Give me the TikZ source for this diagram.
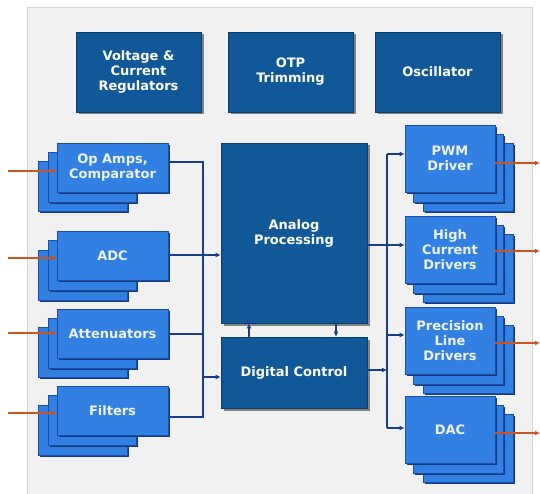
\documentclass[tikz,border=0pt]{standalone}
\usepackage{fontspec}
\setmainfont{DejaVu Sans}
\usetikzlibrary{arrows.meta,shadows}

\definecolor{panel}{RGB}{241,241,241}
\definecolor{panelline}{RGB}{212,212,212}
\definecolor{darkblock}{RGB}{16,88,152}
\definecolor{lightblock}{RGB}{50,128,226}
\definecolor{lightedge}{RGB}{26,78,168}
\definecolor{wirecol}{RGB}{24,62,140}
\definecolor{signal}{RGB}{204,84,34}
\definecolor{lbltext}{RGB}{238,243,252}

\tikzset{
  blocktext/.style={font=\bfseries\fontsize{13}{15}\selectfont, align=center, text=white},
  darkbox/.style={blocktext, rectangle, fill=darkblock, draw=darkblock!70!black,
    line width=0.6pt, inner sep=0pt,
    drop shadow={shadow xshift=2.5pt, shadow yshift=-2.5pt, opacity=.45, fill=black}},
  cardshadow/.style={general shadow={fill=lightedge!75!black, shadow xshift=1.6pt, shadow yshift=-1.6pt}},
  lightbox/.style={blocktext, text=lbltext, rectangle, fill=lightblock, draw=lightedge,
    line width=0.8pt, inner sep=0pt, cardshadow},
  layerbox/.style={fill=lightblock, draw=lightedge, line width=0.8pt, cardshadow},
  wire/.style={draw=wirecol, line width=1.3pt},
  wirearrow/.style={wire, -{Latex[length=5pt,width=5pt]}},
  sigarrow/.style={draw=signal, line width=1.3pt, -{Latex[length=5pt,width=5pt]}},
}

% stacked input card: name, centre y, label
\newcommand\leftstack[3]{%
  \path[layerbox] (38,{#2-6}) rectangle (127,{#2+44});
  \path[layerbox] (48,{#2-15.5}) rectangle (136,{#2+34.5});
  \node[lightbox, minimum width=111pt, minimum height=49pt] (#1) at (112.5,#2) {#3};
}
% stacked output card: name, centre y, label
\newcommand\rightstack[3]{%
  \path[layerbox] (423,{#2-15.5}) rectangle (513,{#2+52.5});
  \path[layerbox] (413,{#2-24.5}) rectangle (503,{#2+43.5});
  \node[lightbox, minimum width=90pt, minimum height=67pt] (#1) at (450,#2) {#3};
}

\begin{document}
\begin{tikzpicture}[x=1pt, y=-1pt]
\useasboundingbox (0,0) rectangle (540,494);
\path[fill=white] (0,0) rectangle (540,494);
\path[fill=panel, draw=panelline, line width=0.8pt] (27,7) rectangle (532,510);

% top row
\node[darkbox, minimum width=125pt, minimum height=80pt] (vreg) at (138.5,72) {Voltage \&\\Current\\Regulators};
\node[darkbox, minimum width=125pt, minimum height=80pt] (otp) at (290.5,72) {OTP\\Trimming};
\node[darkbox, minimum width=125pt, minimum height=80pt] (osc) at (437.5,72) {Oscillator};

% core
\node[darkbox, minimum width=146pt, minimum height=180pt] (analog) at (294,233) {Analog\\Processing};
\node[darkbox, minimum width=146pt, minimum height=71pt] (digital) at (294,372.5) {Digital Control};

% inputs
\leftstack{opamps}{167.5}{Op Amps,\\Comparator}
\leftstack{adc}{256}{ADC}
\leftstack{atten}{333.5}{Attenuators}
\leftstack{filters}{411}{Filters}

% outputs
\rightstack{pwm}{158.5}{PWM\\Driver}
\rightstack{hcd}{250}{High\\Current\\Drivers}
\rightstack{prec}{340.5}{Precision\\Line\\Drivers}
\rightstack{dac}{430}{DAC}

% left bus
\coordinate (lbusTop) at (203,162);
\coordinate (lbusADC) at (203,255);
\coordinate (lbusAtt) at (203,334);
\coordinate (lbusDC) at (203,377);
\coordinate (lbusBot) at (203,417);
\draw[wire] (opamps.east |- lbusTop) -- (lbusTop) -- (lbusBot) -- (filters.east |- lbusBot);
\draw[wire] (atten.east |- lbusAtt) -- (lbusAtt);
\draw[wirearrow] (adc.east |- lbusADC) -- (analog.west |- lbusADC);
\draw[wirearrow] (lbusDC) -- (digital.west |- lbusDC);

% analog <-> digital
\draw[wirearrow] ([xshift=-45pt]digital.north) -- ([xshift=-45pt]analog.south);
\draw[wirearrow] ([xshift=42pt]analog.south) -- ([xshift=42pt]digital.north);

% right bus
\coordinate (rbusTop) at (387,154);
\coordinate (rbusAP) at (387,245);
\coordinate (rbusPrec) at (387,335);
\coordinate (rbusDC) at (387,370);
\coordinate (rbusBot) at (387,428);
\draw[wire] (rbusTop) -- (rbusBot);
\draw[wirearrow] (rbusTop) -- (pwm.west |- rbusTop);
\draw[wirearrow] (analog.east |- rbusAP) -- (hcd.west |- rbusAP);
\draw[wirearrow] (rbusPrec) -- (prec.west |- rbusPrec);
\draw[wirearrow] (rbusBot) -- (dac.west |- rbusBot);
\draw[wirearrow] (digital.east |- rbusDC) -- (rbusDC);

% external signals
\coordinate (inOp) at (8,171);
\coordinate (inADC) at (8,258);
\coordinate (inAtt) at (8,333);
\coordinate (inFil) at (8,413);
\draw[sigarrow] (inOp) -- (opamps.west |- inOp);
\draw[sigarrow] (inADC) -- (adc.west |- inADC);
\draw[sigarrow] (inAtt) -- (atten.west |- inAtt);
\draw[sigarrow] (inFil) -- (filters.west |- inFil);

\coordinate (outPWM) at (540,163);
\coordinate (outHCD) at (540,251);
\coordinate (outPrec) at (540,343);
\coordinate (outDAC) at (540,433);
\draw[sigarrow] (pwm.east |- outPWM) -- (outPWM);
\draw[sigarrow] (hcd.east |- outHCD) -- (outHCD);
\draw[sigarrow] (prec.east |- outPrec) -- (outPrec);
\draw[sigarrow] (dac.east |- outDAC) -- (outDAC);
\end{tikzpicture}
\end{document}
